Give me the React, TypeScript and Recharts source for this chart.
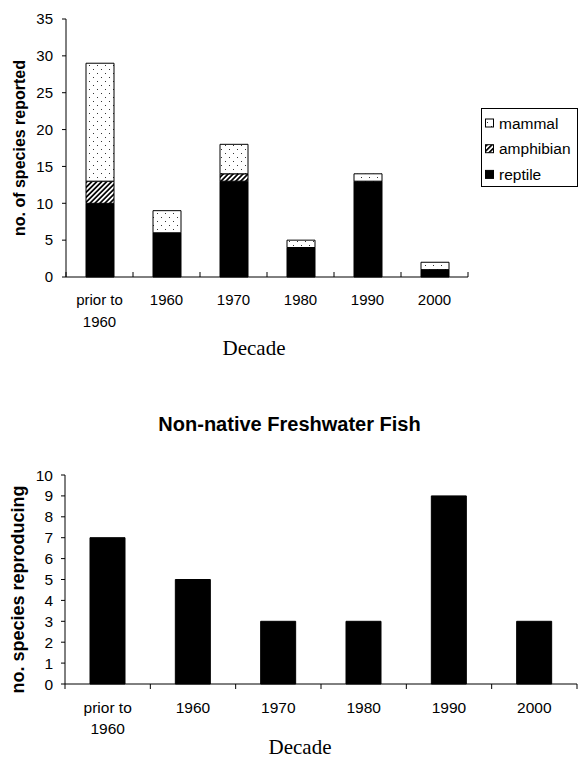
import React from 'react';
import { BarChart, Bar, XAxis, YAxis, Legend } from 'recharts';

// ---------- data ----------
const decades = ['prior to\n1960', '1960', '1970', '1980', '1990', '2000'];
const reptile = [10, 6, 13, 4, 13, 1];
const amphibian = [3, 0, 1, 0, 0, 0];
const mammal = [16, 3, 4, 1, 1, 1];
const fishReproducing = [7, 5, 3, 3, 9, 3];
const herpTicks = [0, 5, 10, 15, 20, 25, 30, 35];
const fishTicks = [0, 1, 2, 3, 4, 5, 6, 7, 8, 9, 10];
const legendOrder = ['mammal', 'amphibian', 'reptile'];

const herpData = decades.map((d, i) => ({
  decade: d,
  reptile: reptile[i],
  amphibian: amphibian[i],
  mammal: mammal[i],
}));
const fishData = decades.map((d, i) => ({ decade: d, fish: fishReproducing[i] }));

// ---------- style ----------
const SANS = '"Liberation Sans", Arial, sans-serif';
const SERIF = '"Liberation Serif", "Times New Roman", serif';

// top chart layout
const T_W = 579, T_H = 362, T_TOP = 19, T_RIGHT = 111, T_YW = 66, T_XH = 85;
const T_BAND = (T_W - T_RIGHT - T_YW) / decades.length;
// bottom chart layout
const B_W = 579, B_H = 359, B_TOP = 75, B_RIGHT = 2, B_YW = 65, B_XH = 75;
const B_BAND = (B_W - B_RIGHT - B_YW) / decades.length;

const makeTick = (o: { half: number; dir: number; len: number; base: number; gap: number; fs: number }) =>
  (props: any) => {
    const { x, y, payload, index } = props;
    const lines = String(payload.value).split('\n');
    const last = index === decades.length - 1;
    return (
      <g>
        <line x1={x - o.half} x2={x - o.half} y1={y} y2={y + o.dir * o.len} stroke="#000" strokeWidth={1} />
        {last && <line x1={x + o.half} x2={x + o.half} y1={y} y2={y + o.dir * o.len} stroke="#000" strokeWidth={1} />}
        <text x={x} y={y + o.base} textAnchor="middle" fontSize={o.fs} fontFamily={SANS} fill="#000">
          {lines.map((l, i) => (
            <tspan key={i} x={x} dy={i === 0 ? 0 : o.gap}>{l}</tspan>
          ))}
        </text>
      </g>
    );
  };

const topTick = makeTick({ half: T_BAND / 2, dir: -1, len: 5, base: 28, gap: 22, fs: 15 });
const botTick = makeTick({ half: B_BAND / 2, dir: 1, len: 5, base: 29, gap: 21, fs: 15.5 });

const decadeLabel = (dx: number, dy: number) => (props: any) => {
  const vb = props.viewBox || {};
  return (
    <text x={vb.x + vb.width / 2 + dx} y={vb.y + dy} textAnchor="middle" fontSize={21} fontFamily={SERIF} fill="#000">
      Decade
    </text>
  );
};

const yLabel = (text: string, cx: number, dy: number, fs: number) => (props: any) => {
  const vb = props.viewBox || {};
  const x = vb.x + cx;
  const y = vb.y + vb.height / 2 + dy;
  return (
    <text x={x} y={y} transform={`rotate(-90, ${x}, ${y})`} textAnchor="middle" dominantBaseline="central"
      fontSize={fs} fontWeight="bold" fontFamily={SANS} fill="#000">
      {text}
    </text>
  );
};

const renderLegend = (props: any) => {
  const payload: any[] = props.payload || [];
  const items = legendOrder
    .map((k) => payload.find((p: any) => p.value === k || p.dataKey === k))
    .filter(Boolean);
  return (
    <div style={{ width: 97, height: 79, boxSizing: 'border-box', border: '1px solid #000', background: '#fff' }}>
      <svg width={95} height={77} style={{ display: 'block' }}>
        {items.map((e: any, i: number) => {
          const cy = 14 + i * 25.7;
          return (
            <g key={String(e.value)}>
              <rect x={3.5} y={cy - 4} width={8} height={8} fill={e.color} stroke="#000" strokeWidth={1} />
              <text x={17} y={cy + 5.5} fontSize={15.5} fontFamily={SANS} fill="#000">{e.value}</text>
            </g>
          );
        })}
      </svg>
    </div>
  );
};

export default function App() {
  return (
    <div style={{ position: 'absolute', left: 0, top: 0, width: 579, height: 759, background: '#fff', overflow: 'hidden' }}>
      <svg width={0} height={0} style={{ position: 'absolute' }}>
        <defs>
          <pattern id="dots" patternUnits="userSpaceOnUse" width={8} height={8}>
            <rect x={0} y={0} width={8} height={8} fill="#fff" />
            <rect x={1} y={1} width={1} height={1} fill="#333" />
            <rect x={5} y={5} width={1} height={1} fill="#333" />
          </pattern>
          <pattern id="hatch" patternUnits="userSpaceOnUse" width={3.5} height={3.5} patternTransform="rotate(45)">
            <rect x={0} y={0} width={3.5} height={3.5} fill="#fff" />
            <rect x={0} y={0} width={1.7} height={3.5} fill="#000" />
          </pattern>
        </defs>
      </svg>

      <div style={{ position: 'absolute', left: 0, top: 0 }}>
        <BarChart width={T_W} height={T_H} data={herpData} margin={{ top: T_TOP, right: T_RIGHT, bottom: 0, left: 0 }} barSize={28}>
          <XAxis dataKey="decade" height={T_XH} interval={0} tickLine={false} tickSize={0} tickMargin={0}
            axisLine={{ stroke: '#000' }} tick={topTick} label={decadeLabel(-13, 78)} />
          <YAxis width={T_YW} domain={[0, 35]} ticks={herpTicks} interval={0} tickSize={4} tickMargin={9}
            axisLine={{ stroke: '#000' }} tickLine={{ stroke: '#000' }}
            tick={{ fontSize: 15, fontFamily: SANS, fill: '#000' }}
            label={yLabel('no. of species reported', 19, 0, 16)} />
          <Bar dataKey="reptile" name="reptile" stackId="a" fill="#000" stroke="#000" strokeWidth={1} isAnimationActive={false} />
          <Bar dataKey="amphibian" name="amphibian" stackId="a" fill="url(#hatch)" stroke="#000" strokeWidth={1} isAnimationActive={false} />
          <Bar dataKey="mammal" name="mammal" stackId="a" fill="url(#dots)" stroke="#000" strokeWidth={1} isAnimationActive={false} />
          <Legend layout="vertical" align="center" verticalAlign="middle" content={renderLegend}
            wrapperStyle={{ left: 481, top: 108, width: 97, height: 79 }} />
        </BarChart>
      </div>

      <div style={{ position: 'absolute', left: 0, top: 414, width: 579, textAlign: 'center', fontFamily: SANS,
        fontWeight: 'bold', fontSize: 20, lineHeight: '20px', color: '#000' }}>
        Non-native Freshwater Fish
      </div>

      <div style={{ position: 'absolute', left: 0, top: 400 }}>
        <BarChart width={B_W} height={B_H} data={fishData} margin={{ top: B_TOP, right: B_RIGHT, bottom: 0, left: 0 }} barSize={35}>
          <XAxis dataKey="decade" height={B_XH} interval={0} tickLine={false} tickSize={0} tickMargin={0}
            axisLine={{ stroke: '#000' }} tick={botTick} label={decadeLabel(-21, 70)} />
          <YAxis width={B_YW} domain={[0, 10]} ticks={fishTicks} interval={0} tickSize={4} tickMargin={8}
            axisLine={{ stroke: '#000' }} tickLine={{ stroke: '#000' }}
            tick={{ fontSize: 15.5, fontFamily: SANS, fill: '#000' }}
            label={yLabel('no. species reproducing', 18, 10, 18)} />
          <Bar dataKey="fish" name="fish" fill="#000" stroke="#000" strokeWidth={1} isAnimationActive={false} />
        </BarChart>
      </div>
    </div>
  );
}
